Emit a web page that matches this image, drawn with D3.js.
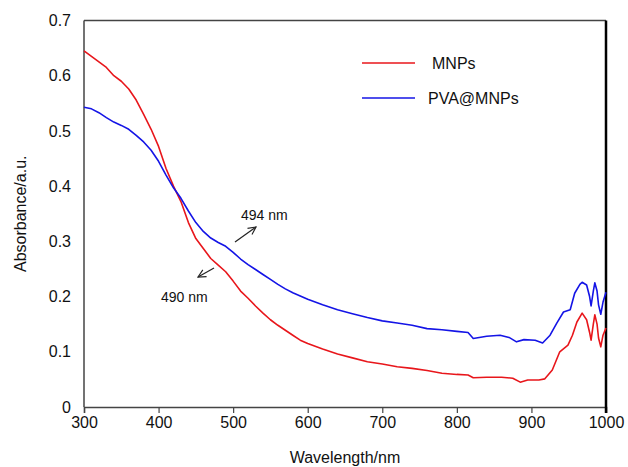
<!DOCTYPE html>
<html>
<head>
<meta charset="utf-8">
<script src="https://cdn.jsdelivr.net/npm/d3@7"></script>
<style>
  body { margin: 0; background: #fff; }
  svg { font-family: "Liberation Sans", Arial, sans-serif; }
</style>
</head>
<body>
<div id="chart"></div>
<script>
// wavelengths (nm) and absorbance values
const mnpWave = [300,310,320,330,340,350,360,370,380,390,400,410,420,430,440,450,460,470,480,490,500,510,520,530,540,550,560,570,580,590,600,620,640,660,680,700,720,740,760,780,800,815,822,840,860,875,885,895,910,918,928,938,949,955,961,968,974,978,980,983,985,988,990,993,996,1000];
const mnpAbs = [0.645,0.635,0.625,0.615,0.600,0.590,0.576,0.556,0.530,0.503,0.472,0.432,0.400,0.372,0.334,0.305,0.287,0.269,0.257,0.245,0.228,0.210,0.197,0.183,0.170,0.158,0.148,0.139,0.130,0.121,0.115,0.105,0.096,0.089,0.082,0.078,0.073,0.070,0.066,0.061,0.059,0.058,0.053,0.054,0.054,0.052,0.045,0.049,0.049,0.051,0.067,0.100,0.112,0.130,0.154,0.170,0.158,0.135,0.121,0.150,0.167,0.150,0.125,0.109,0.130,0.143];

const pvaWave = [300,310,320,330,340,350,360,370,380,390,400,410,420,430,440,450,460,470,480,490,500,510,520,530,540,550,560,570,580,590,600,620,640,660,680,700,720,740,760,780,800,815,822,840,858,870,880,890,905,915,925,934,943,952,958,965,968,974,978,980,983,985,988,990,993,996,1000];
const pvaAbs = [0.543,0.540,0.533,0.524,0.516,0.510,0.503,0.492,0.480,0.465,0.445,0.420,0.397,0.378,0.355,0.334,0.318,0.306,0.298,0.291,0.280,0.268,0.258,0.249,0.240,0.231,0.222,0.214,0.207,0.201,0.195,0.185,0.176,0.169,0.162,0.156,0.152,0.148,0.142,0.140,0.137,0.135,0.124,0.128,0.130,0.126,0.118,0.122,0.121,0.116,0.130,0.152,0.172,0.176,0.206,0.222,0.226,0.221,0.200,0.183,0.210,0.225,0.210,0.185,0.168,0.190,0.208];

const xTicks = [300,400,500,600,700,800,900,1000];
const yTicks = [0,0.1,0.2,0.3,0.4,0.5,0.6,0.7];

const seriesNames = ['MNPs', 'PVA@MNPs'];
const seriesColors = ['#e8161b', '#1414e6'];

const width = 628, height = 467;
const plotLeft = 84, plotRight = 606, plotTop = 20.5, plotBottom = 407;

const svg = d3.select('#chart').append('svg')
  .attr('width', width)
  .attr('height', height);

const x = d3.scaleLinear().domain([300, 1000]).range([plotLeft, plotRight]);
const y = d3.scaleLinear().domain([0, 0.7]).range([plotBottom, plotTop]);

// frame: top + left
svg.append('line').attr('x1', plotLeft).attr('x2', plotRight).attr('y1', plotTop).attr('y2', plotTop)
  .attr('stroke', '#444').attr('stroke-width', 1.5);
svg.append('line').attr('x1', plotLeft).attr('x2', plotLeft).attr('y1', plotTop).attr('y2', plotBottom)
  .attr('stroke', '#444').attr('stroke-width', 1.5);

// x axis
const xAxis = svg.append('g')
  .attr('transform', `translate(0,${plotBottom})`)
  .call(d3.axisBottom(x).tickValues(xTicks).tickSize(6).tickPadding(4).tickFormat(d3.format('d')));
xAxis.select('.domain').attr('stroke', '#444').attr('stroke-width', 1.5);
xAxis.selectAll('.tick line').attr('stroke', '#444').attr('stroke-width', 1.2);
xAxis.selectAll('text').attr('font-size', 16).attr('fill', '#111');

// y axis
const yAxis = svg.append('g')
  .attr('transform', `translate(${plotLeft},0)`)
  .call(d3.axisLeft(y).tickValues(yTicks).tickSize(0).tickPadding(13)
    .tickFormat(d => d === 0 ? '0' : d3.format('.1f')(d)));
yAxis.select('.domain').remove();
yAxis.selectAll('text').attr('font-size', 16).attr('fill', '#111');

// thick right edge
svg.append('line').attr('x1', plotRight).attr('x2', plotRight).attr('y1', plotTop).attr('y2', plotBottom + 6)
  .attr('stroke', '#000').attr('stroke-width', 2.5);

// curves
const line = d3.line().x(d => x(d[0])).y(d => y(d[1]));
const series = [d3.zip(mnpWave, mnpAbs), d3.zip(pvaWave, pvaAbs)];
svg.selectAll('path.curve')
  .data(series)
  .enter()
  .append('path')
  .attr('class', 'curve')
  .attr('d', line)
  .attr('fill', 'none')
  .attr('stroke', (d, i) => seriesColors[i])
  .attr('stroke-width', 1.6)
  .attr('stroke-linejoin', 'round');

// legend
const legend = svg.selectAll('g.legend')
  .data(seriesNames)
  .enter()
  .append('g')
  .attr('class', 'legend')
  .attr('transform', (d, i) => `translate(362,${63 + i * 35})`);
legend.append('line')
  .attr('x1', 0).attr('x2', 53).attr('y1', 0).attr('y2', 0)
  .attr('stroke', (d, i) => seriesColors[i])
  .attr('stroke-width', 1.6);
legend.append('text')
  .attr('x', (d, i) => i === 0 ? 70 : 66)
  .attr('y', 6)
  .attr('font-size', 16)
  .attr('fill', '#111')
  .text(d => d);

// axis titles
svg.append('text')
  .attr('x', (plotLeft + plotRight) / 2).attr('y', 463)
  .attr('text-anchor', 'middle')
  .attr('font-size', 16).attr('fill', '#111')
  .text('Wavelength/nm');
svg.append('text')
  .attr('transform', `translate(26,${(plotTop + plotBottom) / 2}) rotate(-90)`)
  .attr('text-anchor', 'middle')
  .attr('font-size', 16).attr('fill', '#111')
  .text('Absorbance/a.u.');

// peak annotations
svg.append('defs').append('marker')
  .attr('id', 'arrow')
  .attr('viewBox', '0 0 10 10')
  .attr('refX', 9).attr('refY', 5)
  .attr('markerWidth', 8).attr('markerHeight', 8)
  .attr('orient', 'auto')
  .append('path')
  .attr('d', 'M1,1 L9,5 L1,9')
  .attr('fill', 'none')
  .attr('stroke', '#222')
  .attr('stroke-width', 1.2);

svg.append('line')
  .attr('x1', 235).attr('y1', 242).attr('x2', 256).attr('y2', 227)
  .attr('stroke', '#222').attr('stroke-width', 1.2)
  .attr('marker-end', 'url(#arrow)');
svg.append('text')
  .attr('x', 241).attr('y', 220)
  .attr('font-size', 14).attr('fill', '#111')
  .text('494 nm');

svg.append('line')
  .attr('x1', 214).attr('y1', 268).attr('x2', 198).attr('y2', 277)
  .attr('stroke', '#222').attr('stroke-width', 1.2)
  .attr('marker-end', 'url(#arrow)');
svg.append('text')
  .attr('x', 161).attr('y', 302)
  .attr('font-size', 14).attr('fill', '#111')
  .text('490 nm');
</script>
</body>
</html>
